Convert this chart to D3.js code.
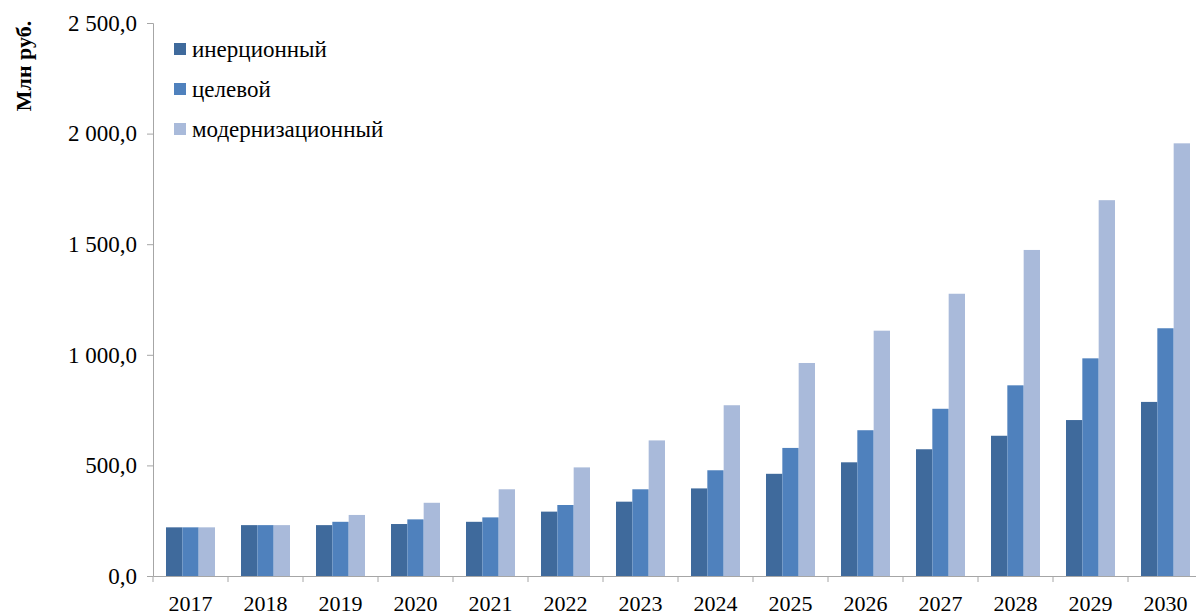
<!DOCTYPE html>
<html lang="ru">
<head>
<meta charset="UTF-8">
<title>Млн руб.</title>
<script src="https://d3js.org/d3.v7.min.js"></script>
<style>
  body { margin: 0; background: #fff; }
  text { font-family: "Liberation Serif", "Times New Roman", serif; fill: #000; }
</style>
</head>
<body>
<script>
// Данные
const years = ["2017","2018","2019","2020","2021","2022","2023","2024","2025","2026","2027","2028","2029","2030"];
const inertial = [220, 230, 230, 235, 245, 291, 336, 396, 462, 514, 573, 634, 705, 787];
const target   = [220, 230, 245, 256, 265, 321, 392, 478, 579, 659, 756, 862, 984, 1120];
const modern   = [220, 230, 276, 331, 392, 491, 613, 772, 963, 1109, 1276, 1474, 1699, 1956];
const seriesNames = ["инерционный", "целевой", "модернизационный"];
const yTicks = [0, 500, 1000, 1500, 2000, 2500];

const colors = ["#3F6A9C", "#4F81BD", "#A9BADA"];
const width = 1196, height = 612;

const svg = d3.select("body").append("svg")
    .attr("width", width)
    .attr("height", height);

// оси
const x0 = d3.scaleBand().domain(years).range([153, 1203]).padding(0);
const x1 = d3.scaleBand().domain([0, 1, 2])
    .range([13, x0.bandwidth() - 13]).padding(0);
const y = d3.scaleLinear().domain([0, 2500]).range([576, 23]);

const table = years.map((yr, i) => ({ year: yr, vals: [inertial[i], target[i], modern[i]] }));

// столбцы
svg.append("g").selectAll("g")
    .data(table)
    .enter().append("g")
    .attr("transform", d => "translate(" + x0(d.year) + ",0)")
    .selectAll("rect")
    .data(d => d.vals.map((v, k) => ({ k: k, v: v })))
    .enter().append("rect")
    .attr("x", d => x1(d.k))
    .attr("y", d => y(d.v))
    .attr("width", x1.bandwidth())
    .attr("height", d => y(0) - y(d.v))
    .attr("fill", d => colors[d.k]);

const fmt = v => {
    const s = d3.format(",.1f")(v);
    return s.replace(/,/g, "\u00a0").replace(".", ",");
};

// ось Y
const yAxis = svg.append("g")
    .attr("transform", "translate(153,0)")
    .call(d3.axisLeft(y).tickValues(yTicks).tickFormat(fmt).tickSize(6).tickPadding(10));
yAxis.select(".domain").attr("stroke", "#A6A6A6");
yAxis.selectAll(".tick line").attr("stroke", "#A6A6A6");
yAxis.selectAll("text").style("font-size", "23px").attr("fill", "#000");

// ось X
const xAxis = svg.append("g")
    .attr("transform", "translate(0,576)")
    .call(d3.axisBottom(x0).tickSize(0).tickPadding(19));
xAxis.select(".domain").attr("stroke", "#A6A6A6");
xAxis.selectAll("text").style("font-size", "22px").attr("fill", "#000");
xAxis.selectAll(".sep")
    .data(years)
    .enter().append("line")
    .attr("x1", d => x0(d)).attr("x2", d => x0(d))
    .attr("y1", 0).attr("y2", 6)
    .attr("stroke", "#A6A6A6");

// подпись оси
svg.append("text")
    .attr("transform", "translate(31,66) rotate(-90)")
    .attr("text-anchor", "middle")
    .style("font-size", "22px")
    .style("font-weight", "bold")
    .text("Млн руб.");

// легенда
const leg = svg.append("g").selectAll("g")
    .data(seriesNames)
    .enter().append("g")
    .attr("transform", (d, i) => "translate(174," + (49 + i * 40) + ")");
leg.append("rect")
    .attr("x", 0).attr("y", -6)
    .attr("width", 12).attr("height", 12)
    .attr("fill", (d, i) => colors[i]);
leg.append("text")
    .attr("x", 18).attr("y", 0)
    .attr("dy", "0.35em")
    .style("font-size", "23px")
    .text(d => d);
</script>
</body>
</html>
